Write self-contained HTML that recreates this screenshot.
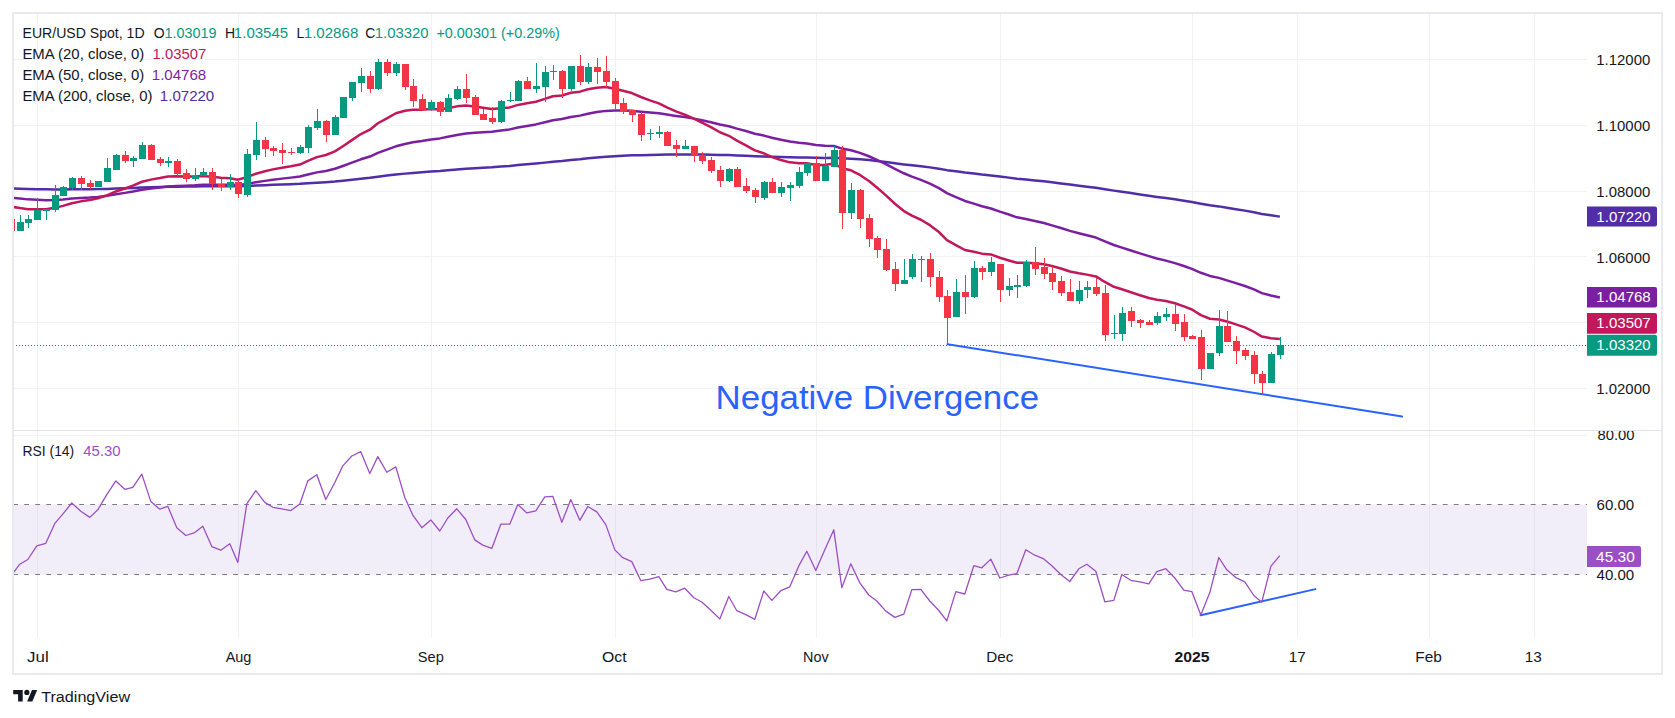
<!DOCTYPE html>
<html><head><meta charset="utf-8"><style>
html,body{margin:0;padding:0;background:#fff;width:1675px;height:718px;overflow:hidden}
svg{display:block}
text{font-family:"Liberation Sans", sans-serif}
</style></head><body>
<svg width="1675" height="718" viewBox="0 0 1675 718">
<rect x="0" y="0" width="1675" height="718" fill="#ffffff"/>

<line x1="37.5" y1="14" x2="37.5" y2="638" stroke="#f1f3f3" stroke-width="1"/>
<line x1="238.5" y1="14" x2="238.5" y2="638" stroke="#f1f3f3" stroke-width="1"/>
<line x1="431.5" y1="14" x2="431.5" y2="638" stroke="#f1f3f3" stroke-width="1"/>
<line x1="615.5" y1="14" x2="615.5" y2="638" stroke="#f1f3f3" stroke-width="1"/>
<line x1="816.5" y1="14" x2="816.5" y2="638" stroke="#f1f3f3" stroke-width="1"/>
<line x1="1000.5" y1="14" x2="1000.5" y2="638" stroke="#f1f3f3" stroke-width="1"/>
<line x1="1192.5" y1="14" x2="1192.5" y2="638" stroke="#f1f3f3" stroke-width="1"/>
<line x1="1297.5" y1="14" x2="1297.5" y2="638" stroke="#f1f3f3" stroke-width="1"/>
<line x1="1429.5" y1="14" x2="1429.5" y2="638" stroke="#f1f3f3" stroke-width="1"/>
<line x1="1534.5" y1="14" x2="1534.5" y2="638" stroke="#f1f3f3" stroke-width="1"/>
<line x1="14" y1="59.5" x2="1587" y2="59.5" stroke="#f1f3f3" stroke-width="1"/>
<line x1="14" y1="125.5" x2="1587" y2="125.5" stroke="#f1f3f3" stroke-width="1"/>
<line x1="14" y1="191.5" x2="1587" y2="191.5" stroke="#f1f3f3" stroke-width="1"/>
<line x1="14" y1="256.5" x2="1587" y2="256.5" stroke="#f1f3f3" stroke-width="1"/>
<line x1="14" y1="322.5" x2="1587" y2="322.5" stroke="#f1f3f3" stroke-width="1"/>
<line x1="14" y1="388.5" x2="1587" y2="388.5" stroke="#f1f3f3" stroke-width="1"/>
<line x1="14" y1="435.5" x2="1587" y2="435.5" stroke="#f1f3f3" stroke-width="1"/>
<rect x="14" y="504.5" width="1573" height="70" fill="#7e57c2" fill-opacity="0.1"/>
<line x1="13.25" y1="504.5" x2="1587" y2="504.5" stroke="#787b86" stroke-width="1" stroke-dasharray="4.8 6.1966"/>
<line x1="13.25" y1="574.5" x2="1587" y2="574.5" stroke="#787b86" stroke-width="1" stroke-dasharray="4.8 6.1966"/>
<defs><clipPath id="cm"><rect x="14" y="14" width="1573" height="416"/></clipPath><clipPath id="cr"><rect x="14" y="431" width="1573" height="207"/></clipPath></defs>
<g clip-path="url(#cm)">
<polyline points="10.90,188.30 19.90,188.64 27.90,188.94 36.90,189.15 45.90,189.35 54.90,189.40 62.90,189.38 71.90,189.27 80.90,189.21 89.90,189.19 97.90,189.11 106.90,188.90 115.90,188.56 124.90,188.28 132.90,187.98 141.90,187.55 150.90,187.28 159.90,187.04 167.90,186.78 176.90,186.65 185.90,186.57 194.90,186.46 202.90,186.32 211.90,186.30 220.90,186.31 229.90,186.27 237.90,186.34 246.90,186.02 255.90,185.56 264.90,185.20 272.90,184.85 281.90,184.53 290.90,184.22 299.90,183.85 307.90,183.28 316.90,182.66 325.90,182.19 334.90,181.54 342.90,180.70 351.90,179.72 360.90,178.69 369.90,177.79 377.90,176.64 386.90,175.60 395.90,174.50 404.90,173.62 412.90,172.89 421.90,172.27 430.90,171.57 439.90,170.97 447.90,170.24 456.90,169.44 465.90,168.72 474.90,168.18 482.90,167.70 491.90,167.24 500.90,166.58 509.90,165.92 517.90,165.07 526.90,164.31 535.90,163.54 544.90,162.62 552.90,161.71 561.90,160.98 570.90,160.04 579.90,159.26 587.90,158.34 596.90,157.48 605.90,156.73 614.90,156.20 622.90,155.75 631.90,155.34 640.90,155.13 649.90,154.91 658.90,154.69 666.90,154.60 675.90,154.54 684.90,154.46 693.90,154.47 701.90,154.53 710.90,154.69 719.90,154.95 728.90,155.09 736.90,155.40 745.90,155.76 754.90,156.17 763.90,156.43 771.90,156.79 780.90,157.09 789.90,157.37 798.90,157.51 806.90,157.57 815.90,157.80 824.90,157.88 833.90,157.80 841.90,158.34 850.90,158.66 859.90,159.26 868.90,160.05 876.90,160.94 885.90,162.02 894.90,163.23 903.90,164.40 911.90,165.34 920.90,166.27 929.90,167.37 938.90,168.66 946.90,170.14 955.90,171.35 964.90,172.60 973.90,173.55 981.90,174.52 990.90,175.40 999.90,176.53 1008.90,177.62 1016.90,178.69 1025.90,179.51 1034.90,180.40 1043.90,181.33 1051.90,182.33 1060.90,183.43 1069.90,184.59 1078.90,185.64 1086.90,186.66 1095.90,187.72 1104.90,189.18 1113.90,190.61 1121.90,191.83 1130.90,193.11 1139.90,194.40 1148.90,195.70 1156.90,196.89 1165.90,198.06 1174.90,199.31 1183.90,200.68 1191.90,202.05 1200.90,203.71 1209.90,205.19 1218.90,206.39 1226.90,207.74 1235.90,209.17 1244.90,210.62 1253.90,212.25 1261.90,213.94 1270.90,215.34 1279.90,216.63" fill="none" stroke="#512da8" stroke-width="2.5" stroke-linejoin="round"/>
<polyline points="10.90,197.60 19.90,198.56 27.90,199.37 36.90,199.79 45.90,200.15 54.90,199.95 62.90,199.45 71.90,198.61 80.90,198.02 89.90,197.58 97.90,196.94 106.90,195.81 115.90,194.20 124.90,192.88 132.90,191.51 141.90,189.69 150.90,188.51 159.90,187.52 167.90,186.48 176.90,185.98 185.90,185.70 194.90,185.32 202.90,184.80 211.90,184.78 220.90,184.87 229.90,184.76 237.90,185.11 246.90,183.89 255.90,182.17 264.90,180.87 272.90,179.69 281.90,178.63 290.90,177.62 299.90,176.42 307.90,174.48 316.90,172.38 325.90,170.91 334.90,168.80 342.90,165.98 351.90,162.70 360.90,159.30 369.90,156.53 377.90,152.82 386.90,149.68 395.90,146.32 404.90,143.99 412.90,142.28 421.90,141.00 430.90,139.48 439.90,138.39 447.90,136.80 456.90,134.92 465.90,133.47 474.90,132.73 482.90,132.22 491.90,131.80 500.90,130.59 509.90,129.38 517.90,127.48 526.90,125.96 535.90,124.40 544.90,122.34 552.90,120.33 561.90,119.08 570.90,117.01 579.90,115.62 587.90,113.72 596.90,112.07 605.90,110.88 614.90,110.61 622.90,110.62 631.90,110.77 640.90,111.70 649.90,112.54 658.90,113.30 666.90,114.57 675.90,115.91 684.90,117.10 693.90,118.61 701.90,120.26 710.90,122.25 719.90,124.53 728.90,126.28 736.90,128.65 745.90,131.08 754.90,133.69 763.90,135.58 771.90,137.82 780.90,139.75 789.90,141.53 798.90,142.73 806.90,143.52 815.90,144.97 824.90,145.79 833.90,145.95 841.90,148.57 850.90,150.20 859.90,152.88 868.90,156.25 876.90,159.90 885.90,164.22 894.90,168.90 903.90,173.26 911.90,176.63 920.90,179.86 929.90,183.66 938.90,188.10 946.90,193.18 955.90,197.05 964.90,200.96 973.90,203.59 981.90,206.26 990.90,208.45 999.90,211.63 1008.90,214.55 1016.90,217.31 1025.90,219.04 1034.90,220.99 1043.90,223.06 1051.90,225.37 1060.90,228.01 1069.90,230.85 1078.90,233.18 1086.90,235.30 1095.90,237.58 1104.90,241.38 1113.90,244.97 1121.90,247.64 1130.90,250.50 1139.90,253.33 1148.90,256.14 1156.90,258.48 1165.90,260.66 1174.90,263.13 1183.90,266.02 1191.90,268.87 1200.90,272.79 1209.90,275.93 1218.90,277.89 1226.90,280.40 1235.90,283.16 1244.90,286.00 1253.90,289.44 1261.90,293.10 1270.90,295.49 1279.90,297.43" fill="none" stroke="#7b1fa2" stroke-width="2.5" stroke-linejoin="round"/>
<polyline points="10.90,206.60 19.90,208.08 27.90,209.14 36.90,209.22 45.90,209.20 54.90,207.85 62.90,205.88 71.90,203.23 80.90,201.36 89.90,199.99 97.90,198.20 106.90,195.32 115.90,191.46 124.90,188.52 132.90,185.62 141.90,181.75 150.90,179.64 159.90,178.09 167.90,176.46 176.90,176.20 185.90,176.44 194.90,176.40 202.90,175.99 211.90,176.79 220.90,177.76 229.90,178.16 237.90,179.65 246.90,177.20 255.90,173.67 264.90,171.31 272.90,169.36 281.90,167.76 290.90,166.34 299.90,164.52 307.90,160.94 316.90,157.13 325.90,155.00 334.90,151.39 342.90,146.21 351.90,140.11 360.90,134.01 369.90,129.69 377.90,123.25 386.90,118.43 395.90,113.26 404.90,110.74 412.90,109.76 421.90,109.76 430.90,109.03 439.90,109.27 447.90,108.19 456.90,106.36 465.90,105.55 474.90,106.41 482.90,107.67 491.90,109.01 500.90,108.23 509.90,107.43 517.90,104.90 526.90,103.35 535.90,101.72 544.90,98.88 552.90,96.23 561.90,95.50 570.90,92.70 579.90,91.65 587.90,89.32 596.90,87.65 605.90,87.08 614.90,88.68 622.90,90.79 631.90,93.06 640.90,97.00 649.90,100.43 658.90,103.43 666.90,107.45 675.90,111.39 684.90,114.71 693.90,118.61 701.90,122.61 710.90,127.21 719.90,132.28 728.90,135.79 736.90,140.64 745.90,145.42 754.90,150.37 763.90,153.39 771.90,157.11 780.90,159.97 789.90,162.36 798.90,163.29 806.90,163.25 815.90,164.90 824.90,165.00 833.90,163.56 841.90,168.24 850.90,170.31 859.90,174.92 868.90,181.00 876.90,187.52 885.90,195.38 894.90,203.78 903.90,211.05 911.90,215.61 920.90,219.75 929.90,225.18 938.90,232.00 946.90,240.16 955.90,245.10 964.90,250.02 973.90,251.73 981.90,253.63 990.90,254.43 999.90,257.78 1008.90,260.47 1016.90,262.80 1025.90,262.67 1034.90,263.26 1043.90,264.26 1051.90,265.94 1060.90,268.48 1069.90,271.54 1078.90,273.31 1086.90,274.63 1095.90,276.43 1104.90,281.97 1113.90,286.81 1121.90,289.30 1130.90,292.29 1139.90,295.19 1148.90,298.01 1156.90,299.72 1165.90,301.08 1174.90,303.24 1183.90,306.42 1191.90,309.50 1200.90,315.15 1209.90,318.74 1218.90,319.43 1226.90,321.56 1235.90,324.35 1244.90,327.32 1253.90,331.75 1261.90,336.60 1270.90,338.26 1279.90,338.91" fill="none" stroke="#c2185b" stroke-width="2.5" stroke-linejoin="round"/>
<rect x="8" y="219" width="7" height="12" fill="#f23645"/>
<rect x="20" y="215" width="1" height="16" fill="#089981"/>
<rect x="17" y="222" width="7" height="9" fill="#089981"/>
<rect x="28" y="215" width="1" height="13" fill="#089981"/>
<rect x="25" y="219" width="7" height="4" fill="#089981"/>
<rect x="37" y="198" width="1" height="22" fill="#089981"/>
<rect x="34" y="210" width="7" height="10" fill="#089981"/>
<rect x="46" y="209" width="1" height="11" fill="#089981"/>
<rect x="43" y="209" width="7" height="2" fill="#089981"/>
<rect x="55" y="185" width="1" height="27" fill="#089981"/>
<rect x="52" y="195" width="7" height="15" fill="#089981"/>
<rect x="63" y="186" width="1" height="10" fill="#089981"/>
<rect x="60" y="187" width="7" height="9" fill="#089981"/>
<rect x="72" y="177" width="1" height="13" fill="#089981"/>
<rect x="69" y="178" width="7" height="10" fill="#089981"/>
<rect x="81" y="176" width="1" height="14" fill="#f23645"/>
<rect x="78" y="178" width="7" height="6" fill="#f23645"/>
<rect x="90" y="180" width="1" height="9" fill="#f23645"/>
<rect x="87" y="183" width="7" height="4" fill="#f23645"/>
<rect x="95" y="181" width="7" height="6" fill="#089981"/>
<rect x="107" y="158" width="1" height="24" fill="#089981"/>
<rect x="104" y="168" width="7" height="14" fill="#089981"/>
<rect x="116" y="154" width="1" height="16" fill="#089981"/>
<rect x="113" y="155" width="7" height="15" fill="#089981"/>
<rect x="125" y="151" width="1" height="12" fill="#f23645"/>
<rect x="122" y="155" width="7" height="6" fill="#f23645"/>
<rect x="133" y="156" width="1" height="11" fill="#089981"/>
<rect x="130" y="158" width="7" height="3" fill="#089981"/>
<rect x="142" y="142" width="1" height="17" fill="#089981"/>
<rect x="139" y="145" width="7" height="14" fill="#089981"/>
<rect x="151" y="144" width="1" height="16" fill="#f23645"/>
<rect x="148" y="145" width="7" height="15" fill="#f23645"/>
<rect x="160" y="157" width="1" height="9" fill="#f23645"/>
<rect x="157" y="159" width="7" height="4" fill="#f23645"/>
<rect x="168" y="157" width="1" height="10" fill="#089981"/>
<rect x="165" y="161" width="7" height="2" fill="#089981"/>
<rect x="177" y="159" width="1" height="17" fill="#f23645"/>
<rect x="174" y="161" width="7" height="13" fill="#f23645"/>
<rect x="186" y="169" width="1" height="13" fill="#f23645"/>
<rect x="183" y="173" width="7" height="6" fill="#f23645"/>
<rect x="195" y="168" width="1" height="13" fill="#089981"/>
<rect x="192" y="176" width="7" height="3" fill="#089981"/>
<rect x="203" y="168" width="1" height="8" fill="#089981"/>
<rect x="200" y="172" width="7" height="4" fill="#089981"/>
<rect x="212" y="168" width="1" height="22" fill="#f23645"/>
<rect x="209" y="172" width="7" height="12" fill="#f23645"/>
<rect x="221" y="179" width="1" height="12" fill="#f23645"/>
<rect x="218" y="184" width="7" height="3" fill="#f23645"/>
<rect x="230" y="174" width="1" height="16" fill="#089981"/>
<rect x="227" y="182" width="7" height="5" fill="#089981"/>
<rect x="238" y="180" width="1" height="18" fill="#f23645"/>
<rect x="235" y="182" width="7" height="12" fill="#f23645"/>
<rect x="247" y="149" width="1" height="48" fill="#089981"/>
<rect x="244" y="154" width="7" height="41" fill="#089981"/>
<rect x="256" y="122" width="1" height="38" fill="#089981"/>
<rect x="253" y="140" width="7" height="15" fill="#089981"/>
<rect x="265" y="137" width="1" height="20" fill="#f23645"/>
<rect x="262" y="140" width="7" height="9" fill="#f23645"/>
<rect x="273" y="146" width="1" height="10" fill="#f23645"/>
<rect x="270" y="148" width="7" height="3" fill="#f23645"/>
<rect x="282" y="143" width="1" height="21" fill="#f23645"/>
<rect x="279" y="150" width="7" height="3" fill="#f23645"/>
<rect x="291" y="148" width="1" height="7" fill="#f23645"/>
<rect x="288" y="152" width="7" height="1" fill="#f23645"/>
<rect x="300" y="145" width="1" height="9" fill="#089981"/>
<rect x="297" y="147" width="7" height="6" fill="#089981"/>
<rect x="308" y="125" width="1" height="28" fill="#089981"/>
<rect x="305" y="127" width="7" height="21" fill="#089981"/>
<rect x="317" y="109" width="1" height="21" fill="#089981"/>
<rect x="314" y="121" width="7" height="7" fill="#089981"/>
<rect x="326" y="120" width="1" height="22" fill="#f23645"/>
<rect x="323" y="121" width="7" height="14" fill="#f23645"/>
<rect x="335" y="115" width="1" height="20" fill="#089981"/>
<rect x="332" y="117" width="7" height="18" fill="#089981"/>
<rect x="340" y="97" width="7" height="21" fill="#089981"/>
<rect x="352" y="82" width="1" height="19" fill="#089981"/>
<rect x="349" y="82" width="7" height="16" fill="#089981"/>
<rect x="361" y="68" width="1" height="24" fill="#089981"/>
<rect x="358" y="76" width="7" height="7" fill="#089981"/>
<rect x="370" y="71" width="1" height="22" fill="#f23645"/>
<rect x="367" y="76" width="7" height="13" fill="#f23645"/>
<rect x="378" y="59" width="1" height="31" fill="#089981"/>
<rect x="375" y="62" width="7" height="27" fill="#089981"/>
<rect x="387" y="59" width="1" height="17" fill="#f23645"/>
<rect x="384" y="62" width="7" height="11" fill="#f23645"/>
<rect x="396" y="62" width="1" height="14" fill="#089981"/>
<rect x="393" y="64" width="7" height="9" fill="#089981"/>
<rect x="405" y="64" width="1" height="26" fill="#f23645"/>
<rect x="402" y="64" width="7" height="23" fill="#f23645"/>
<rect x="413" y="79" width="1" height="28" fill="#f23645"/>
<rect x="410" y="86" width="7" height="15" fill="#f23645"/>
<rect x="422" y="94" width="1" height="17" fill="#f23645"/>
<rect x="419" y="99" width="7" height="11" fill="#f23645"/>
<rect x="431" y="100" width="1" height="11" fill="#089981"/>
<rect x="428" y="102" width="7" height="8" fill="#089981"/>
<rect x="440" y="101" width="1" height="15" fill="#f23645"/>
<rect x="437" y="102" width="7" height="10" fill="#f23645"/>
<rect x="448" y="94" width="1" height="18" fill="#089981"/>
<rect x="445" y="98" width="7" height="14" fill="#089981"/>
<rect x="457" y="86" width="1" height="14" fill="#089981"/>
<rect x="454" y="89" width="7" height="10" fill="#089981"/>
<rect x="466" y="74" width="1" height="29" fill="#f23645"/>
<rect x="463" y="89" width="7" height="9" fill="#f23645"/>
<rect x="475" y="95" width="1" height="20" fill="#f23645"/>
<rect x="472" y="97" width="7" height="18" fill="#f23645"/>
<rect x="483" y="109" width="1" height="11" fill="#f23645"/>
<rect x="480" y="114" width="7" height="6" fill="#f23645"/>
<rect x="492" y="107" width="1" height="17" fill="#f23645"/>
<rect x="489" y="118" width="7" height="4" fill="#f23645"/>
<rect x="501" y="100" width="1" height="23" fill="#089981"/>
<rect x="498" y="101" width="7" height="21" fill="#089981"/>
<rect x="510" y="92" width="1" height="10" fill="#089981"/>
<rect x="507" y="100" width="7" height="1" fill="#089981"/>
<rect x="518" y="80" width="1" height="21" fill="#089981"/>
<rect x="515" y="81" width="7" height="20" fill="#089981"/>
<rect x="527" y="77" width="1" height="12" fill="#f23645"/>
<rect x="524" y="81" width="7" height="8" fill="#f23645"/>
<rect x="536" y="63" width="1" height="30" fill="#089981"/>
<rect x="533" y="86" width="7" height="3" fill="#089981"/>
<rect x="545" y="66" width="1" height="36" fill="#089981"/>
<rect x="542" y="72" width="7" height="15" fill="#089981"/>
<rect x="553" y="65" width="1" height="15" fill="#089981"/>
<rect x="550" y="71" width="7" height="1" fill="#089981"/>
<rect x="562" y="70" width="1" height="28" fill="#f23645"/>
<rect x="559" y="71" width="7" height="18" fill="#f23645"/>
<rect x="571" y="66" width="1" height="25" fill="#089981"/>
<rect x="568" y="66" width="7" height="23" fill="#089981"/>
<rect x="580" y="55" width="1" height="30" fill="#f23645"/>
<rect x="577" y="66" width="7" height="16" fill="#f23645"/>
<rect x="588" y="63" width="1" height="21" fill="#089981"/>
<rect x="585" y="67" width="7" height="15" fill="#089981"/>
<rect x="597" y="58" width="1" height="26" fill="#f23645"/>
<rect x="594" y="67" width="7" height="5" fill="#f23645"/>
<rect x="606" y="56" width="1" height="32" fill="#f23645"/>
<rect x="603" y="71" width="7" height="11" fill="#f23645"/>
<rect x="615" y="78" width="1" height="32" fill="#f23645"/>
<rect x="612" y="81" width="7" height="23" fill="#f23645"/>
<rect x="623" y="98" width="1" height="16" fill="#f23645"/>
<rect x="620" y="103" width="7" height="8" fill="#f23645"/>
<rect x="632" y="110" width="1" height="12" fill="#f23645"/>
<rect x="629" y="110" width="7" height="5" fill="#f23645"/>
<rect x="641" y="112" width="1" height="29" fill="#f23645"/>
<rect x="638" y="114" width="7" height="21" fill="#f23645"/>
<rect x="650" y="129" width="1" height="11" fill="#089981"/>
<rect x="647" y="133" width="7" height="1" fill="#089981"/>
<rect x="659" y="126" width="1" height="12" fill="#089981"/>
<rect x="656" y="132" width="7" height="2" fill="#089981"/>
<rect x="667" y="131" width="1" height="15" fill="#f23645"/>
<rect x="664" y="132" width="7" height="14" fill="#f23645"/>
<rect x="676" y="140" width="1" height="17" fill="#f23645"/>
<rect x="673" y="145" width="7" height="4" fill="#f23645"/>
<rect x="685" y="140" width="1" height="9" fill="#089981"/>
<rect x="682" y="146" width="7" height="3" fill="#089981"/>
<rect x="694" y="146" width="1" height="16" fill="#f23645"/>
<rect x="691" y="146" width="7" height="10" fill="#f23645"/>
<rect x="702" y="152" width="1" height="12" fill="#f23645"/>
<rect x="699" y="155" width="7" height="6" fill="#f23645"/>
<rect x="711" y="157" width="1" height="16" fill="#f23645"/>
<rect x="708" y="160" width="7" height="11" fill="#f23645"/>
<rect x="720" y="166" width="1" height="21" fill="#f23645"/>
<rect x="717" y="170" width="7" height="11" fill="#f23645"/>
<rect x="729" y="168" width="1" height="14" fill="#089981"/>
<rect x="726" y="169" width="7" height="12" fill="#089981"/>
<rect x="737" y="167" width="1" height="20" fill="#f23645"/>
<rect x="734" y="169" width="7" height="18" fill="#f23645"/>
<rect x="746" y="178" width="1" height="15" fill="#f23645"/>
<rect x="743" y="186" width="7" height="5" fill="#f23645"/>
<rect x="755" y="188" width="1" height="15" fill="#f23645"/>
<rect x="752" y="190" width="7" height="7" fill="#f23645"/>
<rect x="764" y="181" width="1" height="19" fill="#089981"/>
<rect x="761" y="182" width="7" height="16" fill="#089981"/>
<rect x="772" y="178" width="1" height="15" fill="#f23645"/>
<rect x="769" y="182" width="7" height="11" fill="#f23645"/>
<rect x="781" y="182" width="1" height="15" fill="#089981"/>
<rect x="778" y="187" width="7" height="6" fill="#089981"/>
<rect x="790" y="182" width="1" height="19" fill="#089981"/>
<rect x="787" y="185" width="7" height="3" fill="#089981"/>
<rect x="799" y="167" width="1" height="21" fill="#089981"/>
<rect x="796" y="172" width="7" height="14" fill="#089981"/>
<rect x="807" y="162" width="1" height="14" fill="#089981"/>
<rect x="804" y="163" width="7" height="10" fill="#089981"/>
<rect x="816" y="156" width="1" height="25" fill="#f23645"/>
<rect x="813" y="163" width="7" height="18" fill="#f23645"/>
<rect x="825" y="153" width="1" height="28" fill="#089981"/>
<rect x="822" y="166" width="7" height="15" fill="#089981"/>
<rect x="834" y="146" width="1" height="21" fill="#089981"/>
<rect x="831" y="150" width="7" height="17" fill="#089981"/>
<rect x="842" y="146" width="1" height="83" fill="#f23645"/>
<rect x="839" y="150" width="7" height="63" fill="#f23645"/>
<rect x="851" y="183" width="1" height="36" fill="#089981"/>
<rect x="848" y="190" width="7" height="23" fill="#089981"/>
<rect x="860" y="189" width="1" height="39" fill="#f23645"/>
<rect x="857" y="190" width="7" height="29" fill="#f23645"/>
<rect x="869" y="214" width="1" height="33" fill="#f23645"/>
<rect x="866" y="218" width="7" height="21" fill="#f23645"/>
<rect x="877" y="236" width="1" height="22" fill="#f23645"/>
<rect x="874" y="238" width="7" height="12" fill="#f23645"/>
<rect x="886" y="239" width="1" height="32" fill="#f23645"/>
<rect x="883" y="249" width="7" height="21" fill="#f23645"/>
<rect x="895" y="262" width="1" height="29" fill="#f23645"/>
<rect x="892" y="269" width="7" height="15" fill="#f23645"/>
<rect x="904" y="259" width="1" height="25" fill="#089981"/>
<rect x="901" y="280" width="7" height="4" fill="#089981"/>
<rect x="912" y="254" width="1" height="25" fill="#089981"/>
<rect x="909" y="259" width="7" height="18" fill="#089981"/>
<rect x="921" y="256" width="1" height="26" fill="#089981"/>
<rect x="918" y="259" width="7" height="1" fill="#089981"/>
<rect x="930" y="253" width="1" height="34" fill="#f23645"/>
<rect x="927" y="259" width="7" height="18" fill="#f23645"/>
<rect x="939" y="271" width="1" height="31" fill="#f23645"/>
<rect x="936" y="277" width="7" height="20" fill="#f23645"/>
<rect x="947" y="290" width="1" height="54" fill="#f23645"/>
<rect x="944" y="296" width="7" height="22" fill="#f23645"/>
<rect x="956" y="279" width="1" height="38" fill="#089981"/>
<rect x="953" y="292" width="7" height="25" fill="#089981"/>
<rect x="965" y="275" width="1" height="39" fill="#f23645"/>
<rect x="962" y="292" width="7" height="5" fill="#f23645"/>
<rect x="974" y="261" width="1" height="37" fill="#089981"/>
<rect x="971" y="268" width="7" height="29" fill="#089981"/>
<rect x="982" y="266" width="1" height="14" fill="#f23645"/>
<rect x="979" y="268" width="7" height="4" fill="#f23645"/>
<rect x="991" y="257" width="1" height="19" fill="#089981"/>
<rect x="988" y="262" width="7" height="10" fill="#089981"/>
<rect x="1000" y="264" width="1" height="38" fill="#f23645"/>
<rect x="997" y="264" width="7" height="26" fill="#f23645"/>
<rect x="1009" y="278" width="1" height="18" fill="#089981"/>
<rect x="1006" y="286" width="7" height="4" fill="#089981"/>
<rect x="1017" y="275" width="1" height="23" fill="#089981"/>
<rect x="1014" y="285" width="7" height="2" fill="#089981"/>
<rect x="1026" y="260" width="1" height="27" fill="#089981"/>
<rect x="1023" y="262" width="7" height="24" fill="#089981"/>
<rect x="1035" y="247" width="1" height="28" fill="#f23645"/>
<rect x="1032" y="262" width="7" height="7" fill="#f23645"/>
<rect x="1044" y="258" width="1" height="21" fill="#f23645"/>
<rect x="1041" y="267" width="7" height="7" fill="#f23645"/>
<rect x="1052" y="266" width="1" height="24" fill="#f23645"/>
<rect x="1049" y="273" width="7" height="9" fill="#f23645"/>
<rect x="1061" y="276" width="1" height="20" fill="#f23645"/>
<rect x="1058" y="281" width="7" height="12" fill="#f23645"/>
<rect x="1070" y="279" width="1" height="22" fill="#f23645"/>
<rect x="1067" y="292" width="7" height="9" fill="#f23645"/>
<rect x="1079" y="281" width="1" height="23" fill="#089981"/>
<rect x="1076" y="290" width="7" height="11" fill="#089981"/>
<rect x="1087" y="281" width="1" height="17" fill="#089981"/>
<rect x="1084" y="287" width="7" height="3" fill="#089981"/>
<rect x="1096" y="278" width="1" height="18" fill="#f23645"/>
<rect x="1093" y="287" width="7" height="7" fill="#f23645"/>
<rect x="1105" y="285" width="1" height="56" fill="#f23645"/>
<rect x="1102" y="293" width="7" height="42" fill="#f23645"/>
<rect x="1114" y="315" width="1" height="24" fill="#089981"/>
<rect x="1111" y="333" width="7" height="1" fill="#089981"/>
<rect x="1122" y="307" width="1" height="34" fill="#089981"/>
<rect x="1119" y="313" width="7" height="21" fill="#089981"/>
<rect x="1131" y="307" width="1" height="20" fill="#f23645"/>
<rect x="1128" y="311" width="7" height="10" fill="#f23645"/>
<rect x="1140" y="319" width="1" height="9" fill="#f23645"/>
<rect x="1137" y="320" width="7" height="3" fill="#f23645"/>
<rect x="1149" y="320" width="1" height="5" fill="#f23645"/>
<rect x="1146" y="322" width="7" height="3" fill="#f23645"/>
<rect x="1157" y="312" width="1" height="13" fill="#089981"/>
<rect x="1154" y="316" width="7" height="7" fill="#089981"/>
<rect x="1166" y="308" width="1" height="13" fill="#089981"/>
<rect x="1163" y="314" width="7" height="3" fill="#089981"/>
<rect x="1175" y="304" width="1" height="27" fill="#f23645"/>
<rect x="1172" y="314" width="7" height="10" fill="#f23645"/>
<rect x="1184" y="314" width="1" height="27" fill="#f23645"/>
<rect x="1181" y="322" width="7" height="15" fill="#f23645"/>
<rect x="1192" y="335" width="1" height="4" fill="#f23645"/>
<rect x="1189" y="336" width="7" height="3" fill="#f23645"/>
<rect x="1201" y="330" width="1" height="50" fill="#f23645"/>
<rect x="1198" y="337" width="7" height="32" fill="#f23645"/>
<rect x="1207" y="353" width="7" height="16" fill="#089981"/>
<rect x="1219" y="310" width="1" height="46" fill="#089981"/>
<rect x="1216" y="326" width="7" height="27" fill="#089981"/>
<rect x="1227" y="311" width="1" height="31" fill="#f23645"/>
<rect x="1224" y="326" width="7" height="16" fill="#f23645"/>
<rect x="1236" y="336" width="1" height="28" fill="#f23645"/>
<rect x="1233" y="341" width="7" height="10" fill="#f23645"/>
<rect x="1245" y="348" width="1" height="12" fill="#f23645"/>
<rect x="1242" y="350" width="7" height="6" fill="#f23645"/>
<rect x="1254" y="351" width="1" height="33" fill="#f23645"/>
<rect x="1251" y="355" width="7" height="19" fill="#f23645"/>
<rect x="1262" y="371" width="1" height="24" fill="#f23645"/>
<rect x="1259" y="374" width="7" height="9" fill="#f23645"/>
<rect x="1271" y="352" width="1" height="31" fill="#089981"/>
<rect x="1268" y="354" width="7" height="29" fill="#089981"/>
<rect x="1280" y="337" width="1" height="22" fill="#089981"/>
<rect x="1277" y="345" width="7" height="10" fill="#089981"/>
<line x1="947.5" y1="344.2" x2="1402.1" y2="416.5" stroke="#2962ff" stroke-width="2" stroke-linecap="round"/>
<line x1="13" y1="345.5" x2="1587" y2="345.5" stroke="#089981" stroke-width="1" stroke-dasharray="1 2"/>
</g>
<g clip-path="url(#cr)">
<line x1="1200.6" y1="615.3" x2="1315.4" y2="589.1" stroke="#2962ff" stroke-width="2" stroke-linecap="round"/>
<polyline points="10.80,576.00 19.80,564.20 27.80,559.50 36.80,545.90 45.80,543.30 54.80,523.40 62.80,514.10 71.80,503.00 80.80,511.20 89.80,517.40 97.80,509.80 106.80,494.60 115.80,480.90 124.80,489.30 132.80,487.40 141.80,474.10 150.80,501.40 159.80,509.20 167.80,506.30 176.80,527.70 185.80,535.50 194.80,532.60 202.80,526.20 211.80,546.60 220.80,550.20 229.80,543.70 237.80,562.40 246.80,503.80 255.80,490.70 264.80,502.40 272.80,507.30 281.80,508.80 290.80,510.60 299.80,504.00 307.80,480.90 316.80,474.70 325.80,499.50 334.80,482.50 342.80,465.90 351.80,456.00 360.80,451.70 369.80,473.50 377.80,456.60 386.80,472.20 395.80,466.90 404.80,497.50 412.80,515.10 421.80,527.70 430.80,519.90 439.80,531.00 447.80,518.00 456.80,508.80 465.80,519.50 474.80,539.90 482.80,545.10 491.80,548.40 500.80,524.20 509.80,524.20 517.80,504.50 526.80,512.90 535.80,510.90 544.80,496.90 552.80,496.30 561.80,522.30 570.80,499.60 579.80,520.30 587.80,506.50 596.80,511.90 605.80,524.60 614.80,549.90 622.80,557.70 631.80,561.60 640.80,580.70 649.80,579.20 658.80,576.60 666.80,589.30 675.80,591.90 684.80,588.20 693.80,597.70 701.80,602.00 710.80,610.20 719.80,618.90 728.80,596.50 736.80,610.70 745.80,614.60 754.80,619.30 763.80,591.00 771.80,600.40 780.80,590.70 789.80,586.80 798.80,565.90 806.80,551.30 815.80,570.60 824.80,549.70 833.80,529.80 841.80,587.70 850.80,563.80 859.80,582.90 868.80,595.00 876.80,601.00 885.80,611.10 894.80,617.40 903.80,614.10 911.80,589.70 920.80,589.30 929.80,601.00 938.80,610.50 946.80,620.90 955.80,591.60 964.80,594.00 973.80,565.70 981.80,567.80 990.80,559.10 999.80,578.00 1008.80,575.10 1016.80,573.70 1025.80,549.70 1034.80,555.20 1043.80,558.90 1051.80,565.70 1060.80,574.50 1069.80,581.50 1078.80,568.80 1086.80,564.30 1095.80,571.20 1104.80,601.80 1113.80,600.40 1121.80,574.50 1130.80,580.30 1139.80,581.90 1148.80,583.80 1156.80,571.60 1165.80,568.60 1174.80,578.00 1183.80,590.10 1191.80,591.60 1200.80,615.00 1209.80,592.60 1218.80,557.50 1226.80,569.80 1235.80,577.60 1244.80,581.90 1253.80,595.50 1261.80,602.20 1270.80,566.30 1279.80,555.60" fill="none" stroke="#9c4fc4" stroke-width="1.3" stroke-linejoin="round"/>
</g>
<rect x="13" y="430" width="1649" height="1" fill="#e0e3eb"/>
<rect x="13" y="13" width="1649" height="661" fill="none" stroke="#e8eaef" stroke-width="2"/>
<path d="M1587 206.5 H1655 Q1657 206.5 1657 208.5 V224.6 Q1657 226.6 1655 226.6 H1587 Z" fill="#512da8"/>
<path d="M1587 286.9 H1655 Q1657 286.9 1657 288.9 V305.6 Q1657 307.6 1655 307.6 H1587 Z" fill="#7b1fa2"/>
<path d="M1587 313.1 H1655 Q1657 313.1 1657 315.1 V331.7 Q1657 333.7 1655 333.7 H1587 Z" fill="#c2185b"/>
<path d="M1587 334.8 H1655 Q1657 334.8 1657 336.8 V353.8 Q1657 355.8 1655 355.8 H1587 Z" fill="#089981"/>
<path d="M1587 546 H1639 Q1641 546 1641 548 V565 Q1641 567 1639 567 H1587 Z" fill="#9c4fc4"/>
<svg x="1587" y="431" width="80" height="207" overflow="hidden"><text x="10.5" y="8.5" font-size="15.4" fill="#131722" textLength="37" lengthAdjust="spacingAndGlyphs">80.00</text></svg>
<text x="22.54" y="37.6" font-size="13.96" fill="#131722" textLength="122.07" lengthAdjust="spacingAndGlyphs">EUR/USD Spot, 1D</text>
<text x="153.66" y="37.6" font-size="13.96" fill="#131722" >O</text>
<text x="164.60" y="37.6" font-size="13.96" fill="#089981" textLength="52.01" lengthAdjust="spacingAndGlyphs">1.03019</text>
<text x="225.04" y="37.6" font-size="13.96" fill="#131722" >H</text>
<text x="233.86" y="37.6" font-size="13.96" fill="#089981" textLength="54.31" lengthAdjust="spacingAndGlyphs">1.03545</text>
<text x="296.48" y="37.6" font-size="13.96" fill="#131722" >L</text>
<text x="303.74" y="37.6" font-size="13.96" fill="#089981" textLength="54.55" lengthAdjust="spacingAndGlyphs">1.02868</text>
<text x="365.36" y="37.6" font-size="13.96" fill="#131722" >C</text>
<text x="374.74" y="37.6" font-size="13.96" fill="#089981" textLength="53.81" lengthAdjust="spacingAndGlyphs">1.03320</text>
<text x="436.42" y="37.6" font-size="13.96" fill="#089981" textLength="123.43" lengthAdjust="spacingAndGlyphs">+0.00301 (+0.29%)</text>
<text x="22.42" y="58.8" font-size="13.96" fill="#131722" textLength="121.93" lengthAdjust="spacingAndGlyphs">EMA (20, close, 0)</text>
<text x="152.60" y="58.8" font-size="13.96" fill="#c2185b" textLength="53.63" lengthAdjust="spacingAndGlyphs">1.03507</text>
<text x="22.42" y="79.9" font-size="13.96" fill="#131722" textLength="121.93" lengthAdjust="spacingAndGlyphs">EMA (50, close, 0)</text>
<text x="151.80" y="79.9" font-size="13.96" fill="#7b1fa2" textLength="54.43" lengthAdjust="spacingAndGlyphs">1.04768</text>
<text x="22.42" y="100.8" font-size="13.96" fill="#131722" textLength="129.99" lengthAdjust="spacingAndGlyphs">EMA (200, close, 0)</text>
<text x="159.86" y="100.8" font-size="13.96" fill="#512da8" textLength="54.37" lengthAdjust="spacingAndGlyphs">1.07220</text>
<text x="22.52" y="455.9" font-size="14.23" fill="#131722" textLength="51.72" lengthAdjust="spacingAndGlyphs">RSI (14)</text>
<text x="83.32" y="455.9" font-size="14.23" fill="#9c4fc4" textLength="37.30" lengthAdjust="spacingAndGlyphs">45.30</text>
<text x="1596.32" y="65.0" font-size="14.50" fill="#131722" textLength="53.93" lengthAdjust="spacingAndGlyphs">1.12000</text>
<text x="1596.32" y="130.9" font-size="14.50" fill="#131722" textLength="53.93" lengthAdjust="spacingAndGlyphs">1.10000</text>
<text x="1596.32" y="196.8" font-size="14.50" fill="#131722" textLength="53.93" lengthAdjust="spacingAndGlyphs">1.08000</text>
<text x="1596.32" y="262.6" font-size="14.50" fill="#131722" textLength="53.93" lengthAdjust="spacingAndGlyphs">1.06000</text>
<text x="1596.32" y="393.9" font-size="14.50" fill="#131722" textLength="53.93" lengthAdjust="spacingAndGlyphs">1.02000</text>
<text x="1596.58" y="510.1" font-size="14.23" fill="#131722" textLength="37.60" lengthAdjust="spacingAndGlyphs">60.00</text>
<text x="1596.58" y="579.9" font-size="14.23" fill="#131722" textLength="37.60" lengthAdjust="spacingAndGlyphs">40.00</text>
<text x="1596.36" y="221.5" font-size="13.96" fill="#ffffff" textLength="54.37" lengthAdjust="spacingAndGlyphs">1.07220</text>
<text x="1596.36" y="302.2" font-size="13.96" fill="#ffffff" textLength="54.37" lengthAdjust="spacingAndGlyphs">1.04768</text>
<text x="1596.36" y="328.4" font-size="13.96" fill="#ffffff" textLength="54.37" lengthAdjust="spacingAndGlyphs">1.03507</text>
<text x="1596.36" y="350.3" font-size="13.96" fill="#ffffff" textLength="54.37" lengthAdjust="spacingAndGlyphs">1.03320</text>
<text x="1596.10" y="561.5" font-size="13.96" fill="#ffffff" textLength="38.69" lengthAdjust="spacingAndGlyphs">45.30</text>
<text x="27.11" y="661.9" font-size="14.63" fill="#131722" textLength="21.62" lengthAdjust="spacingAndGlyphs">Jul</text>
<text x="225.67" y="661.9" font-size="14.63" fill="#131722" textLength="25.76" lengthAdjust="spacingAndGlyphs">Aug</text>
<text x="417.87" y="661.9" font-size="14.63" fill="#131722" textLength="26.00" lengthAdjust="spacingAndGlyphs">Sep</text>
<text x="601.93" y="661.9" font-size="14.63" fill="#131722" textLength="24.64" lengthAdjust="spacingAndGlyphs">Oct</text>
<text x="803.05" y="661.9" font-size="14.63" fill="#131722" textLength="25.58" lengthAdjust="spacingAndGlyphs">Nov</text>
<text x="986.25" y="661.9" font-size="14.63" fill="#131722" textLength="27.12" lengthAdjust="spacingAndGlyphs">Dec</text>
<text x="1174.61" y="661.9" font-size="14.63" fill="#131722" textLength="35.02" lengthAdjust="spacingAndGlyphs" font-weight="bold">2025</text>
<text x="1288.81" y="661.9" font-size="14.63" fill="#131722" textLength="17.00" lengthAdjust="spacingAndGlyphs">17</text>
<text x="1415.31" y="661.9" font-size="14.63" fill="#131722" textLength="26.56" lengthAdjust="spacingAndGlyphs">Feb</text>
<text x="1524.81" y="661.9" font-size="14.63" fill="#131722" textLength="17.00" lengthAdjust="spacingAndGlyphs">13</text>
<text x="41.17" y="701.8" font-size="14.63" fill="#131722" textLength="88.96" lengthAdjust="spacingAndGlyphs">TradingView</text>
<text x="715.62" y="409.3" font-size="33.96" fill="#2962ff" textLength="323.41" lengthAdjust="spacingAndGlyphs">Negative Divergence</text>
<g fill="#131722"><path d="M13.2 689.9 H22.7 V701.6 H18.1 V694.2 H13.2 Z"/><circle cx="26.85" cy="692.4" r="2.6"/><path d="M32.0 689.9 H37.2 L32.3 701.6 H27.1 Z"/></g>
</svg></body></html>
